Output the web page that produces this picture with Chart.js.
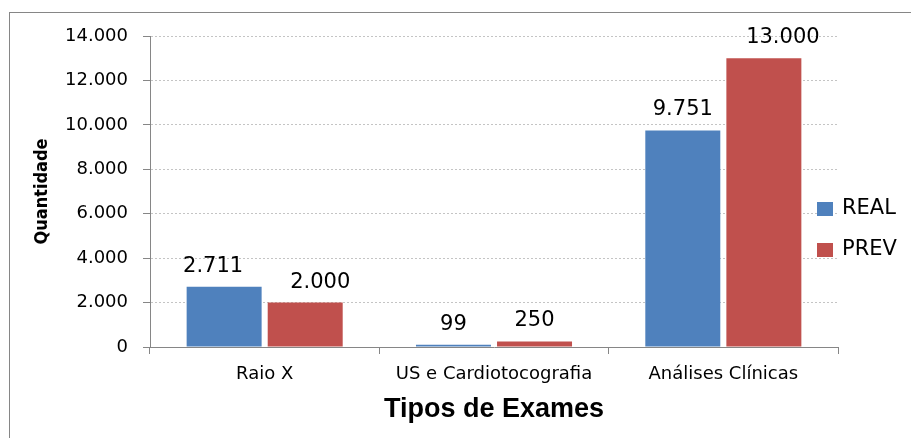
<!DOCTYPE html>
<html>
<head>
<meta charset="utf-8">
<script src="https://cdn.jsdelivr.net/npm/chart.js@4/dist/chart.umd.min.js"></script>
<style>
  html, body { margin: 0; padding: 0; background: #fff; }
  #wrap { position: relative; width: 911px; height: 438px; }
  #frame { position: absolute; left: 9px; top: 12px; right: 0; bottom: 0;
           border-left: 1px solid #868686; border-top: 1px solid #868686; pointer-events: none; }
</style>
</head>
<body>
<div id="wrap">
  <canvas id="myChart" width="911" height="438"></canvas>
  <div id="frame"></div>
</div>
<script>
// dados
const categorias = ['Raio X', 'US e Cardiotocografia', 'Análises Clínicas'];
const valoresReal = [2711, 99, 9751];
const valoresPrev = [2000, 250, 13000];
const ticksY = [0, 2000, 4000, 6000, 8000, 10000, 12000, 14000];

const fmt = v => String(v).replace(/\B(?=(\d{3})+(?!\d))/g, '.');

// rótulos em cima das barras
const rotulos = {
  id: 'rotulos',
  afterDatasetsDraw(chart, args, opts) {
    const ctx = chart.ctx;
    ctx.save();
    ctx.font = '21px "DejaVu Sans"';
    ctx.fillStyle = '#000';
    ctx.textAlign = 'center';
    ctx.textBaseline = 'alphabetic';
    chart.data.datasets.forEach((ds, i) => {
      chart.getDatasetMeta(i).data.forEach((bar, j) => {
        const dx = (opts.desvio[i] || [])[j] || 0;
        ctx.fillText(fmt(ds.data[j]), bar.x + dx, bar.y - 15);
      });
    });
    ctx.restore();
  }
};

// legenda à direita
const legenda = {
  id: 'legenda',
  afterDraw(chart) {
    const ctx = chart.ctx;
    const x = chart.chartArea.right - 21;
    ctx.save();
    ctx.font = '21px "DejaVu Sans"';
    ctx.textBaseline = 'middle';
    chart.data.datasets.forEach((ds, i) => {
      const y = 202 + i * 41;
      ctx.fillStyle = ds.backgroundColor;
      ctx.fillRect(x, y, 16, 14);
      ctx.fillStyle = '#000';
      ctx.fillText(ds.label, x + 25, y + 7);
    });
    ctx.restore();
  }
};

let ctx = document.getElementById('myChart');
let myChart = new Chart(ctx, {
  type: 'bar',
  data: {
    labels: categorias,
    datasets: [{
      label: 'REAL',
      data: valoresReal,
      backgroundColor: '#4F81BD'
    }, {
      label: 'PREV',
      data: valoresPrev,
      backgroundColor: '#C0504D'
    }]
  },
  options: {
    responsive: false,
    animation: false,
    categoryPercentage: 0.707,
    barPercentage: 0.925,
    layout: { padding: { top: 36, right: 73, bottom: 12, left: 0 } },
    plugins: {
      legend: { display: false },
      tooltip: { enabled: false },
      rotulos: { desvio: [[-11, 0, 0], [15, 0, 19]] }
    },
    scales: {
      x: {
        afterFit(scale) { scale.height = 79; },
        grid: { display: true, drawOnChartArea: false, tickLength: 7, tickColor: '#868686', color: '#868686' },
        border: { color: '#868686' },
        ticks: { color: '#000', padding: 10, font: { family: 'DejaVu Sans', size: 18 } },
        title: {
          display: true, text: 'Tipos de Exames', color: '#000',
          font: { family: 'Liberation Sans', size: 27, weight: 'bold' },
          padding: { top: 8, bottom: 0 }
        }
      },
      y: {
        min: 0, max: 14000,
        afterBuildTicks(scale) { scale.ticks = ticksY.map(v => ({ value: v })); },
        afterFit(scale) { scale.width = 150; },
        grid: { color: '#c4c4c4', tickLength: 7, tickColor: '#868686', tickBorderDash: [] },
        border: { color: '#868686', dash: [2, 2] },
        ticks: { color: '#000', padding: 15, font: { family: 'DejaVu Sans', size: 18 }, callback: v => fmt(v) },
        title: {
          display: true, text: 'Quantidade', color: '#000',
          font: { family: "'Liberation Sans Narrow', 'DejaVu Sans Condensed', sans-serif", size: 18, weight: 'bold' },
          padding: { top: 32, bottom: 0 }
        }
      }
    }
  },
  plugins: [rotulos, legenda]
});
</script>
</body>
</html>
